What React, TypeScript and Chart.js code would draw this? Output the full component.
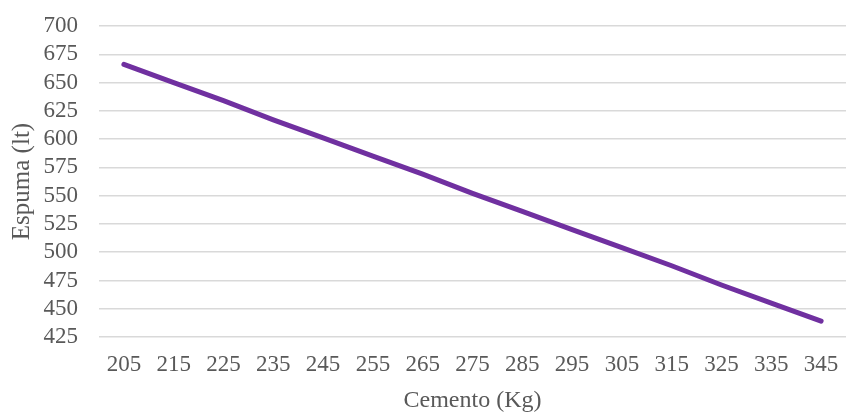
import React, { useEffect, useRef } from "react";
import { Chart, registerables } from "chart.js";

Chart.register(...registerables);

const cementoKg = ["205", "215", "225", "235", "245", "255", "265", "275", "285", "295", "305", "315", "325", "335", "345"];
const espumaLt = [666, 650, 634, 617, 601, 585, 569, 552, 536, 520, 504, 488, 471, 455, 439];
const yMin = 425;
const yMax = 700;
const yStep = 25;

const FONT = "'Liberation Serif', 'Times New Roman', serif";
const TEXT = "#595959";

export default function App() {
  const ref = useRef<HTMLCanvasElement | null>(null);
  useEffect(() => {
    const canvas = ref.current;
    if (!canvas) return;
    const chart = new Chart(canvas, {
      type: "line",
      data: {
        labels: cementoKg,
        datasets: [
          {
            data: espumaLt,
            borderColor: "#7030A0",
            backgroundColor: "#7030A0",
            borderWidth: 5,
            borderCapStyle: "round",
            pointRadius: 0,
            tension: 0,
          },
        ],
      },
      options: {
        animation: false,
        responsive: false,
        layout: { padding: { top: 26, right: 0, bottom: 0, left: 0 } },
        plugins: { legend: { display: false }, tooltip: { enabled: false } },
        scales: {
          x: {
            offset: true,
            grid: { display: false, drawTicks: false },
            border: { display: false },
            ticks: { color: TEXT, font: { family: FONT, size: 23 }, padding: 14, maxRotation: 0, autoSkip: false },
            title: { display: true, text: "Cemento (Kg)", color: TEXT, font: { family: FONT, size: 24 }, padding: { top: 0, bottom: 1 } },
            afterFit: (s: any) => { s.height = 79; s.paddingLeft = 0; s.paddingRight = 0; },
          },
          y: {
            min: yMin,
            max: yMax,
            grid: { color: "#d9d9d9", lineWidth: 1.5, drawTicks: false },
            border: { display: false },
            ticks: { stepSize: yStep, color: TEXT, font: { family: FONT, size: 23 }, padding: 21, autoSkip: false },
            title: { display: true, text: "Espuma (lt)", color: TEXT, font: { family: FONT, size: 25 }, padding: { top: 7, bottom: 0 } },
            afterFit: (s: any) => { s.width = 99; s.paddingTop = 0; s.paddingBottom = 0; },
          },
        },
      },
    });
    return () => chart.destroy();
  }, []);
  return (
    <div style={{ position: "fixed", left: 0, top: 0, width: 846, height: 416, background: "#fff" }}>
      <canvas ref={ref} width={846} height={416} style={{ display: "block" }} />
    </div>
  );
}
